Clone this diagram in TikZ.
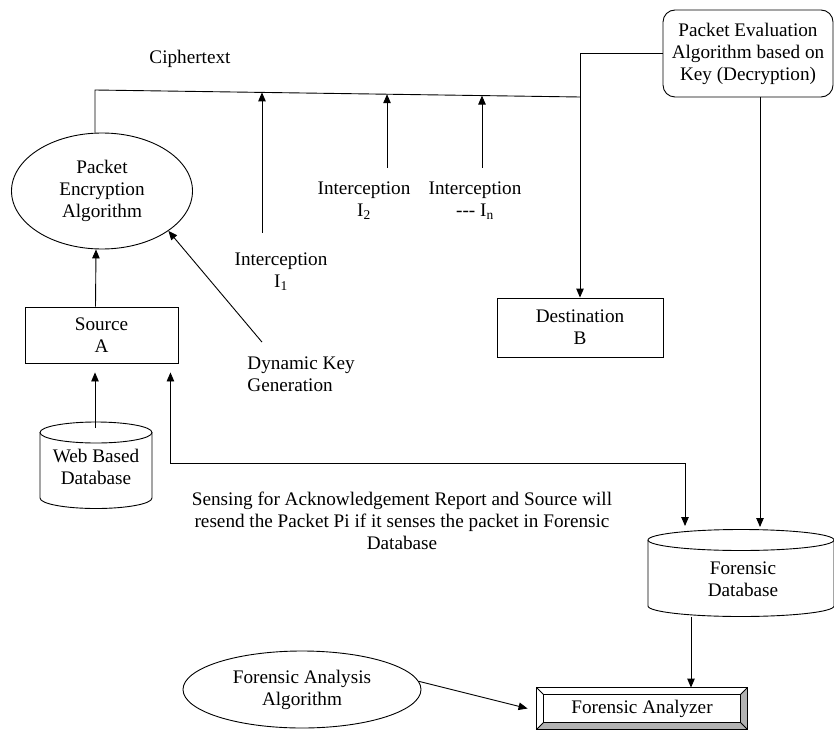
\documentclass[tikz,border=0pt]{standalone}
\usepackage{fontspec}
\setmainfont{Liberation Serif}
\usetikzlibrary{arrows.meta,shapes.geometric,calc}
\begin{document}
\begin{tikzpicture}[x=1pt,y=-1pt,line width=0.9pt,
  every node/.style={font=\fontsize{19.2}{22}\selectfont,align=center,inner sep=0pt},
  arr/.style={-{Triangle[length=9pt,width=7.5pt]}},
  dbl/.style={{Triangle[length=9pt,width=7.5pt]}-{Triangle[length=9pt,width=7.5pt]}},
  boxnode/.style={draw,rectangle},
  oval/.style={draw,ellipse}]
\useasboundingbox (0,0) rectangle (834,730);

% nodes
\node (cipher) at (190,59) {Ciphertext};
\node[oval,minimum width=181pt,minimum height=116pt] (enc) at (102,191) {Packet\\Encryption\\Algorithm};
\node[boxnode,minimum width=153pt,minimum height=56pt] (src) at (101.5,335) {Source\\A};
\node[anchor=west,align=left] (dkg) at (247,374) {Dynamic Key\\Generation};
\node (i1) at (281,272) {Interception\\I\textsubscript{1}};
\node (i2) at (364,201) {Interception\\I\textsubscript{2}};
\node (icn) at (475,201) {Interception\\-{}-{}- I\textsubscript{n}};
\node[draw,rounded corners=12pt,minimum width=170pt,minimum height=87pt] (pe) at (748,53.5) {Packet Evaluation\\Algorithm based on\\Key (Decryption)};
\node[boxnode,minimum width=166pt,minimum height=59pt] (dst) at (580,327.5) {Destination\\B};
\node (webdb) at (96,467) {Web Based\\Database};
\node (fdb) at (743,579) {Forensic\\Database};
\node (sense) at (402,521) {Sensing for Acknowledgement Report and Source will\\resend the Packet Pi if it senses the packet in Forensic\\Database};
\node[oval,minimum width=238pt,minimum height=77pt] (faa) at (302,689.5) {Forensic Analysis\\Algorithm};
\node[minimum width=210pt,minimum height=41pt] (fa) at (642,708.5) {Forensic Analyzer};

% cylinders
\draw (40,432.5) -- (40,498) arc[start angle=180,end angle=0,x radius=56,y radius=10.5] -- (152,432.5);
\draw (96,432.5) ellipse[x radius=56,y radius=10.5];
\draw (648,540) -- (648,606) arc[start angle=180,end angle=0,x radius=93,y radius=10.5] -- (834,540);
\draw (741,540) ellipse[x radius=93,y radius=10.5];

% bevel box
\fill[gray!60] (fa.north east) -- (fa.south east) -- (fa.south west) -- ($(fa.south west)+(7,-7)$) -- ($(fa.south east)+(-7,-7)$) -- ($(fa.north east)+(-7,7)$) -- cycle;
\draw (fa.north west) rectangle (fa.south east);
\draw ($(fa.north west)+(7,7)$) rectangle ($(fa.south east)+(-7,-7)$);
\draw (fa.north west) -- +(7,7) (fa.north east) -- +(-7,7) (fa.south west) -- +(7,-7) (fa.south east) -- +(-7,-7);

% coordinates
\coordinate (c0) at (95,90);
\coordinate (c1) at (580,97);
\coordinate (wtop) at (95,428);
\coordinate (ftop) at (741,527);
\coordinate (fbot) at (691,616.5);
\coordinate (fbmid) at (685,463);
\coordinate (fbend) at (685,526);
\coordinate (pes) at ([xshift=12pt]pe.south);
\path (c0) -- (c1) coordinate[pos=0.3443] (t1) coordinate[pos=0.6021] (t2) coordinate[pos=0.7979] (t3);

% connectors
\draw (enc.north -| c0) -- (c0) -- (c1);
\draw[arr] (pe.west) -| (dst.north);
\draw[arr] (t1 |- i1.north) ++(0,-20) -- (t1);
\draw[arr] (t2 |- i2.north) ++(0,-14) -- (t2);
\draw[arr] (t3 |- icn.north) ++(0,-14) -- (t3);
\draw[arr] ([xshift=-6pt]src.north) -- ([xshift=-6pt]enc.south);
\draw[arr] (wtop) -- ($(wtop |- src.south)+(0,9)$);
\draw[arr] ([xshift=15pt,yshift=14pt]dkg.north west) -- (enc.-31);
\draw[dbl] ([xshift=-8pt,yshift=-9pt]src.south east) |- (fbmid) -- (fbend);
\draw[arr] (pes) -- (pes |- ftop);
\draw[arr] (fbot) -- (fbot |- fa.north);
\draw[arr] (faa.4) -- ([xshift=-9pt]fa.west);
\end{tikzpicture}
\end{document}
